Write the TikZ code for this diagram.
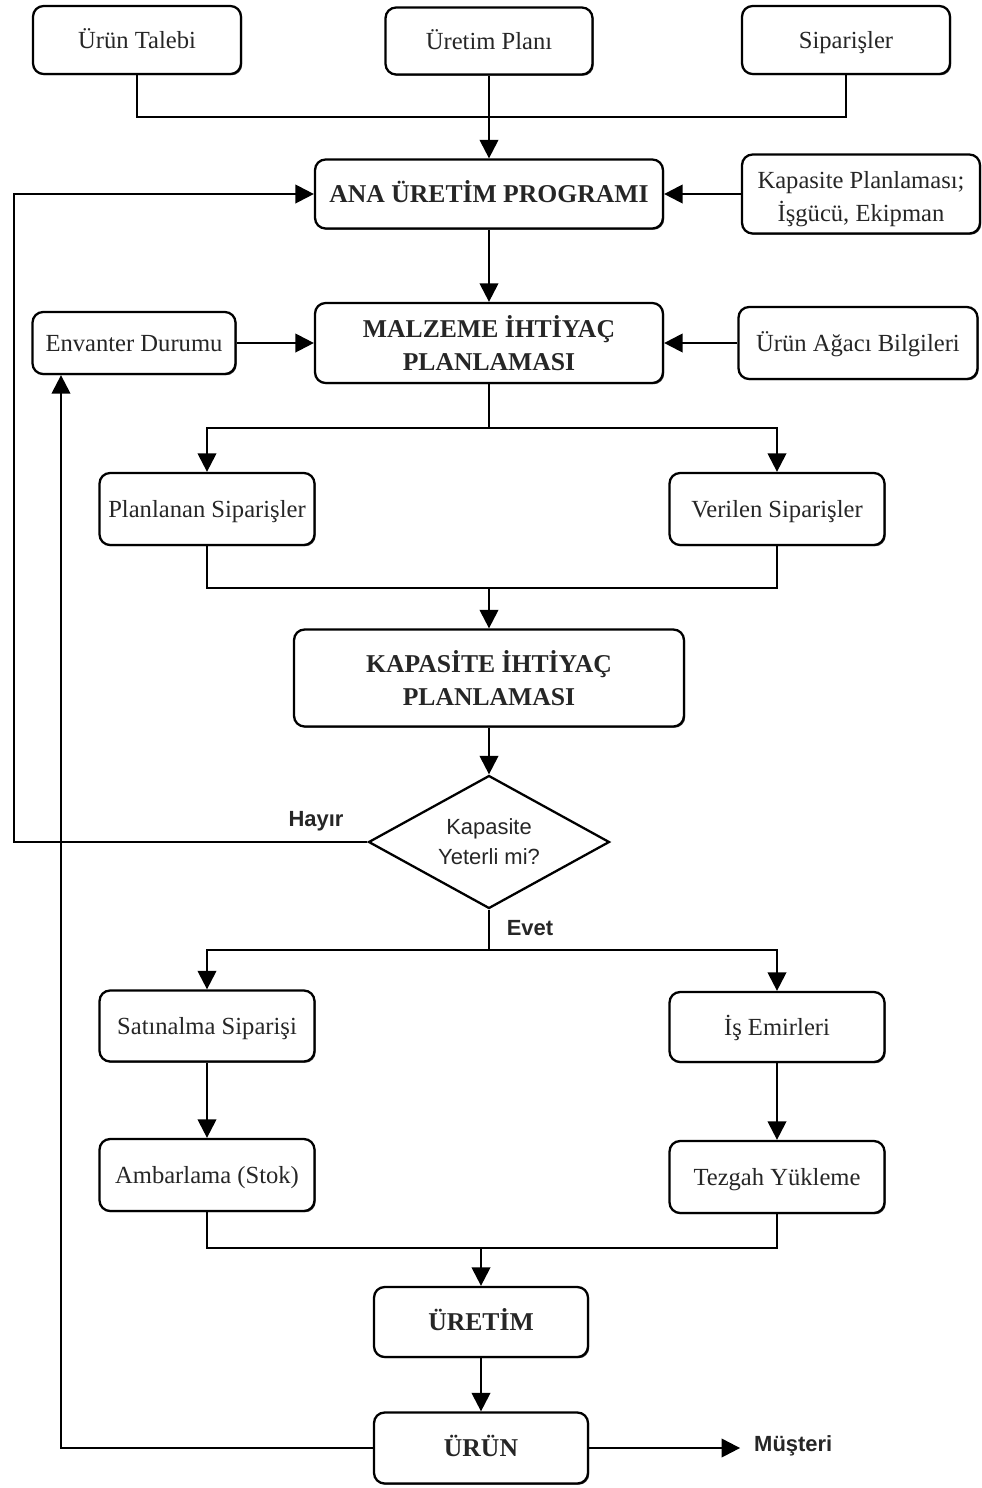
\documentclass[tikz,border=0pt]{standalone}
\usepackage{fontspec}
\setmainfont{Liberation Serif}
\newfontfamily\labelfont{Liberation Sans}
\usetikzlibrary{arrows.meta,shapes.geometric,shadows}

\begin{document}
\begin{tikzpicture}[x=0.02cm,y=-0.02cm,
  box/.style={draw, rounded corners=6pt, line width=1.3pt, align=center,
    inner sep=2pt, fill=white, text=black!85,
    drop shadow={shadow xshift=0.7pt, shadow yshift=-0.7pt, fill=black!75, opacity=1},
    font=\fontsize{14}{18.5}\selectfont},
  oneline/.style={text height=12pt, text depth=2.7pt},
  bigbox/.style={box, font=\fontsize{14.6}{19}\selectfont\bfseries},
  decision/.style={draw, diamond, aspect=1.8, line width=1.3pt, align=center, inner sep=0pt,
    minimum width=4.82cm, minimum height=2.66cm, text=black!85,
    font=\labelfont\fontsize{12.5}{17}\selectfont},
  link/.style={line width=1.3pt},
  arr/.style={link, -{Triangle[length=10.5pt,width=10.5pt]}},
  lbl/.style={font=\labelfont\fontsize{12.5}{15}\selectfont\bfseries, text=black!85},
]
\useasboundingbox (0,0) rectangle (981,1488);

% inputs
\node[box, oneline, minimum width=4.16cm, minimum height=1.36cm] (talep) at (137,40) {Ürün Talebi};
\node[box, oneline, minimum width=4.14cm, minimum height=1.34cm] (plan) at (489,41) {Üretim Planı};
\node[box, oneline, minimum width=4.16cm, minimum height=1.36cm] (sip) at (846,40) {Siparişler};

% master production schedule
\node[bigbox, oneline, minimum width=6.96cm, minimum height=1.38cm] (ana) at (489,194) {ANA ÜRETİM PROGRAMI};
\node[box, text height=32pt, text depth=0.8pt, minimum width=4.76cm, minimum height=1.58cm] (kap) at (861,194) {Kapasite Planlaması;\\İşgücü, Ekipman};

% material requirements planning
\node[bigbox, minimum width=6.96cm, minimum height=1.60cm] (mip) at (489,343) {MALZEME İHTİYAÇ\\PLANLAMASI};
\node[box, oneline, minimum width=4.06cm, minimum height=1.24cm] (env) at (134,343) {Envanter Durumu};
\node[box, oneline, minimum width=4.78cm, minimum height=1.44cm] (agac) at (858,343) {Ürün Ağacı Bilgileri};

\node[box, oneline, minimum width=4.30cm, minimum height=1.44cm] (pls) at (207,509) {Planlanan Siparişler};
\node[box, oneline, minimum width=4.30cm, minimum height=1.44cm] (ver) at (777,509) {Verilen Siparişler};

% capacity requirements planning
\node[bigbox, minimum width=7.80cm, minimum height=1.94cm] (kip) at (489,678) {KAPASİTE İHTİYAÇ\\PLANLAMASI};
\node[decision] (yet) at (489,842) {Kapasite\\Yeterli mi?};

\node[box, oneline, minimum width=4.30cm, minimum height=1.42cm] (sat) at (207,1026) {Satınalma Siparişi};
\node[box, oneline, minimum width=4.30cm, minimum height=1.40cm] (isem) at (777,1027) {İş Emirleri};
\node[box, oneline, minimum width=4.30cm, minimum height=1.44cm] (amb) at (207,1175) {Ambarlama (Stok)};
\node[box, oneline, minimum width=4.30cm, minimum height=1.44cm] (tez) at (777,1177) {Tezgah Yükleme};

\node[bigbox, oneline, minimum width=4.28cm, minimum height=1.40cm] (uret) at (481,1322) {ÜRETİM};
\node[bigbox, oneline, minimum width=4.28cm, minimum height=1.42cm] (urun) at (481,1448) {ÜRÜN};
\node[lbl, anchor=west] (mus) at (748,1446) {Müşteri};

% junction points
\coordinate (j1) at (489,117);
\coordinate (j2) at (489,428);
\coordinate (j3) at (489,588);
\coordinate (j4) at (489,950);
\coordinate (j5) at (481,1248);
\coordinate (lx) at (14,842);
\coordinate (rx) at (61,1448);

% connectors
\draw[link] (talep) |- (j1);
\draw[link] (sip) |- (j1);
\draw[arr] (plan) -- (ana);
\draw[arr] (kap) -- (ana);
\draw[arr] (ana) -- (mip);
\draw[arr] (env) -- (mip);
\draw[arr] (agac) -- (mip);

\draw[link] (mip) -- (j2);
\draw[arr] (j2) -| (pls);
\draw[arr] (j2) -| (ver);
\draw[link] (pls) |- (j3);
\draw[link] (ver) |- (j3);
\draw[arr] (j3) -- (kip);
\draw[arr] (kip) -- (yet);

\draw[arr] (yet.west) -- (lx) |- (ana.west);
\node[lbl] (hayir) at (316,821) {Hayır};

\draw[link] (yet.south) -- (j4);
\node[lbl] (evet) at (530,928) {Evet};
\draw[arr] (j4) -| (sat);
\draw[arr] (j4) -| (isem);
\draw[arr] (sat) -- (amb);
\draw[arr] (isem) -- (tez);
\draw[link] (amb) |- (j5);
\draw[link] (tez) |- (j5);
\draw[arr] (j5) -- (uret);
\draw[arr] (uret) -- (urun);

\draw[arr] (urun.west) -- (rx) -- (rx |- env.south);
\draw[arr, shorten >=4.5pt] (urun.east) -- (urun.east -| mus.west);
\end{tikzpicture}
\end{document}
